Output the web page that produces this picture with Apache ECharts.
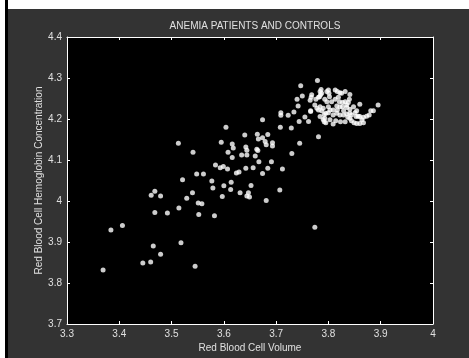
<!DOCTYPE html>
<html>
<head>
<meta charset="utf-8">
<script src="https://cdn.jsdelivr.net/npm/echarts@6/dist/echarts.min.js"></script>
<style>
  html, body { margin: 0; padding: 0; background: #333; }
  #chart { width: 469px; height: 358px; }
</style>
</head>
<body>
<div id="chart"></div>
<script>
// red blood cell volume (x) and hemoglobin concentration (y)
var volume = [
  3.369, 3.384, 3.406, 3.445, 3.46, 3.465, 3.479, 3.468, 3.461, 3.468, 3.479, 3.492, 3.514, 3.518,
  3.529, 3.54, 3.545, 3.551, 3.558, 3.552, 3.577, 3.579, 3.582, 3.597, 3.6, 3.613, 3.614, 3.631,
  3.644, 3.647, 3.649, 3.652, 3.521,
  3.513, 3.541, 3.604, 3.595, 3.616, 3.618, 3.608, 3.616, 3.634, 3.644, 3.64, 3.642, 3.644, 3.664,
  3.666, 3.663, 3.665, 3.66, 3.667, 3.584, 3.599, 3.593, 3.607, 3.624, 3.629, 3.642, 3.656, 3.548,
  3.561,
  3.747, 3.779, 3.75, 3.74, 3.742, 3.734, 3.709, 3.709, 3.723, 3.674, 3.744, 3.755, 3.762, 3.766,
  3.708, 3.729, 3.781, 3.745, 3.73, 3.712, 3.674, 3.684, 3.679, 3.681, 3.693, 3.693, 3.691, 3.684,
  3.674, 3.707, 3.681, 3.774,
  3.768, 3.767, 3.765, 3.776, 3.781, 3.786, 3.784, 3.787, 3.785, 3.783, 3.797, 3.8, 3.801, 3.802,
  3.793, 3.797, 3.806, 3.813, 3.817, 3.822, 3.825, 3.832, 3.841, 3.84, 3.819, 3.813, 3.821, 3.827,
  3.835, 3.838, 3.832, 3.816, 3.822, 3.827, 3.835, 3.841, 3.848, 3.854, 3.86, 3.895, 3.886, 3.881,
  3.878, 3.873, 3.867, 3.86, 3.857, 3.841, 3.835, 3.829, 3.822, 3.816, 3.809, 3.8, 3.795, 3.792,
  3.787, 3.781, 3.778, 3.774, 3.766, 3.784, 3.79, 3.792, 3.795, 3.803, 3.809, 3.814, 3.823, 3.832,
  3.844, 3.849, 3.854, 3.86, 3.867, 3.844, 3.853, 3.851, 3.8, 3.79, 3.784, 3.803, 3.793, 3.809,
  3.817, 3.841, 3.864, 3.829, 3.837
];
var hemoglobin = [
  3.832, 3.929, 3.94, 3.849, 3.851, 3.89, 3.87, 3.972, 4.014, 4.024, 4.012, 3.971, 3.983, 3.898,
  4.007, 4.02, 3.841, 3.995, 3.993, 3.967, 4.049, 4.032, 3.964, 4.011, 4.037, 4.028, 4.046, 4.02,
  4.012, 4.02, 4.01, 4.038, 4.052,
  4.141, 4.119, 4.18, 4.143, 4.139, 4.129, 4.119, 4.106, 4.112, 4.112, 4.161, 4.132, 4.124, 4.163,
  4.151, 4.126, 4.123, 4.11, 4.096, 4.088, 4.084, 4.081, 4.078, 4.068, 4.071, 4.08, 4.081, 4.066,
  4.066,
  4.281, 4.294, 4.256, 4.248, 4.232, 4.217, 4.215, 4.209, 4.209, 4.198, 4.194, 4.205, 4.194, 4.22,
  4.18, 4.178, 4.157, 4.141, 4.116, 4.078, 4.154, 4.162, 4.145, 4.137, 4.142, 4.134, 4.096, 4.08,
  4.067, 4.027, 4.001, 3.936,
  4.259, 4.253, 4.246, 4.248, 4.253, 4.272, 4.267, 4.263, 4.259, 4.254, 4.267, 4.271, 4.263, 4.254,
  4.248, 4.242, 4.242, 4.271, 4.267, 4.264, 4.263, 4.267, 4.26, 4.248, 4.253, 4.248, 4.242, 4.24,
  4.234, 4.24, 4.242, 4.232, 4.23, 4.23, 4.228, 4.224, 4.23, 4.22, 4.236, 4.234, 4.22, 4.22,
  4.21, 4.207, 4.204, 4.206, 4.207, 4.214, 4.212, 4.21, 4.21, 4.214, 4.21, 4.215, 4.214, 4.211,
  4.22, 4.222, 4.226, 4.234, 4.218, 4.206, 4.199, 4.193, 4.191, 4.198, 4.188, 4.196, 4.193, 4.193,
  4.196, 4.191, 4.189, 4.189, 4.191, 4.21, 4.206, 4.215, 4.23, 4.226, 4.23, 4.222, 4.202, 4.222,
  4.222, 4.202, 4.198, 4.22, 4.204
];
var xTicks = [3.3, 3.4, 3.5, 3.6, 3.7, 3.8, 3.9, 4];
var yTicks = [3.7, 3.8, 3.9, 4, 4.1, 4.2, 4.3, 4.4];

var points = volume.map(function (v, i) { return [v, hemoglobin[i]]; });

var textColor = '#e0e0e0';
var fontFamily = '"Liberation Sans", Arial, sans-serif';

function axisBase(min, max, show) {
  return {
    type: 'value',
    min: min,
    max: max,
    interval: 0.1,
    axisLine: { show: true, onZero: false, lineStyle: { color: '#fff', width: 1 } },
    axisTick: { show: true, inside: true, length: 3, lineStyle: { color: '#fff' } },
    axisLabel: {
      show: show,
      color: textColor,
      fontSize: 10,
      fontFamily: fontFamily,
      margin: 5,
      showMinLabel: true,
      showMaxLabel: true,
      formatter: function (v) { return String(+v.toFixed(1)); }
    },
    splitLine: { show: false }
  };
}

var chart = echarts.init(document.getElementById('chart'), null, { renderer: 'canvas' });

var xBottom = axisBase(xTicks[0], xTicks[xTicks.length - 1], true);
xBottom.position = 'bottom';
xBottom.name = 'Red Blood Cell Volume';
xBottom.nameLocation = 'middle';
xBottom.nameGap = 19;
xBottom.nameMoveOverlap = false;
xBottom.nameTextStyle = { color: textColor, fontSize: 10, fontFamily: fontFamily };
var xTop = axisBase(xTicks[0], xTicks[xTicks.length - 1], false);
xTop.position = 'top';

var yLeft = axisBase(yTicks[0], yTicks[yTicks.length - 1], true);
yLeft.position = 'left';
yLeft.name = 'Red Blood Cell Hemoglobin Concentration';
yLeft.nameLocation = 'middle';
yLeft.nameGap = 23;
yLeft.nameMoveOverlap = false;
yLeft.nameTextStyle = { color: textColor, fontSize: 10, fontFamily: fontFamily };
var yRight = axisBase(yTicks[0], yTicks[yTicks.length - 1], false);
yRight.position = 'right';

chart.setOption({
  backgroundColor: '#333',
  animation: false,
  title: {
    text: 'ANEMIA PATIENTS AND CONTROLS',
    left: 250,
    top: 16,
    textAlign: 'center',
    textStyle: { color: textColor, fontSize: 10, fontWeight: 'normal', fontFamily: fontFamily }
  },
  // window frame bits around the figure
  graphic: [
    { type: 'rect', left: 0, top: 0, shape: { width: 5, height: 358 }, style: { fill: '#fff' } },
    { type: 'rect', left: 5, top: 0, shape: { width: 3, height: 358 }, style: { fill: '#000' } },
    { type: 'rect', left: 8, top: 0, shape: { width: 461, height: 9 }, style: { fill: '#fff' } }
  ],
  grid: {
    left: 67,
    top: 37,
    width: 366,
    height: 287,
    show: true,
    backgroundColor: '#000',
    borderWidth: 0
  },
  xAxis: [xBottom, xTop],
  yAxis: [yLeft, yRight],
  series: [
    {
      type: 'scatter',
      xAxisIndex: 0,
      yAxisIndex: 0,
      symbol: 'circle',
      symbolSize: 5,
      itemStyle: { color: '#fff' },
      data: points
    }
  ]
});
</script>
</body>
</html>
